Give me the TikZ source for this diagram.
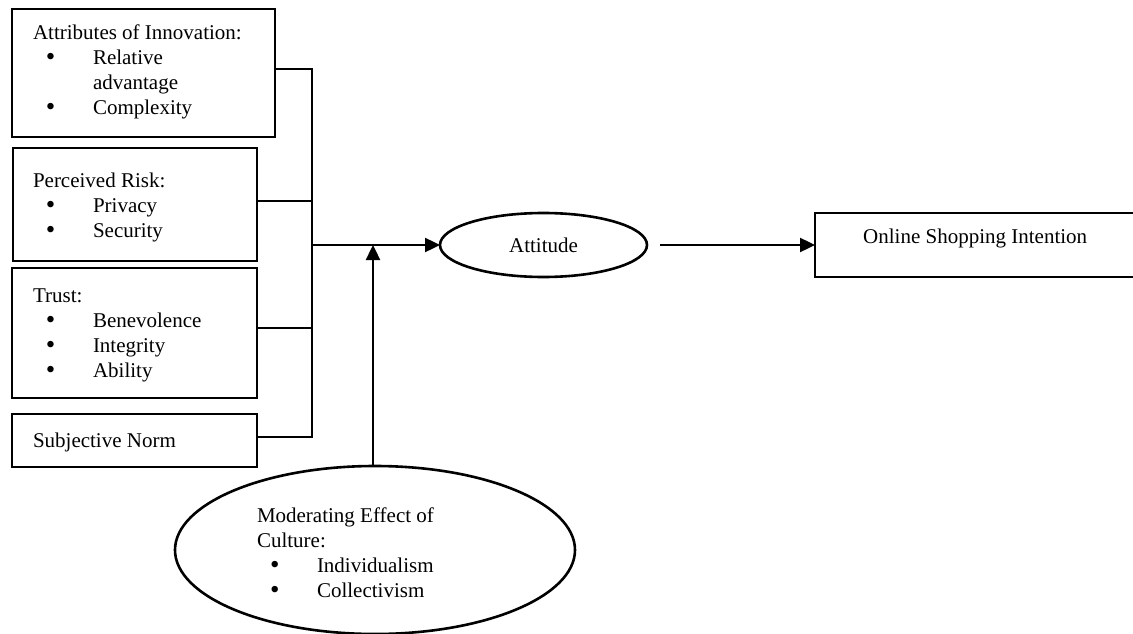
\documentclass[tikz,border=0pt]{standalone}
\usepackage{fontspec}
\setmainfont{Liberation Serif}
\usetikzlibrary{arrows.meta,shapes.geometric}
\newcommand\bdot{\raisebox{-1pt}{\fontsize{27pt}{25pt}\selectfont\textbullet}}
\newcommand\blt[1]{\hspace*{13pt}\makebox[47pt][l]{\bdot}#1}
\newcommand\cont[1]{\hspace*{60pt}#1}
\tikzset{
  every node/.style={font=\fontsize{21pt}{25pt}\selectfont},
  box/.style={draw, line width=2.8pt, rectangle, anchor=north west, inner sep=0pt, outer sep=0pt},
  txt/.style={anchor=north west, inner sep=0pt, outer sep=0pt, align=left},
  oval/.style={draw, line width=2.6pt, ellipse, inner sep=0pt, outer sep=0pt},
  conn/.style={line width=2.4pt},
  arr/.style={line width=2.4pt, -{Triangle[length=15pt,width=14pt]}}
}
\begin{document}
\begin{tikzpicture}[x=1pt,y=-1pt]
\useasboundingbox (0,0) rectangle (1133,634);
% left boxes
\node[box, minimum width=263pt, minimum height=128pt] (b1) at (12,9) {};
\node[box, minimum width=244pt, minimum height=113pt] (b2) at (13,148) {};
\node[box, minimum width=245pt, minimum height=130pt] (b3) at (12,268) {};
\node[box, minimum width=245pt, minimum height=53pt] (b4) at (12,414) {};
\node[txt] (t1) at (33,24.5) {\rule{0pt}{15pt}Attributes of Innovation:\\ \blt{Relative}\\ \cont{advantage}\\ \blt{Complexity}};
\node[txt] (t2) at (33,172.5) {\rule{0pt}{15pt}Perceived Risk:\\ \blt{Privacy}\\ \blt{Security}};
\node[txt] (t3) at (33,287.5) {\rule{0pt}{15pt}Trust:\\ \blt{Benevolence}\\ \blt{Integrity}\\ \blt{Ability}};
\node[txt] (t4) at (33,432) {\rule{0pt}{15pt}Subjective Norm};
% attitude and outcome
\node[oval, minimum width=207pt, minimum height=64pt] (att) at (543.5,245) {Attitude};
\node[box, minimum width=322pt, minimum height=64pt] (out) at (815,213) {};
\node[anchor=base west, inner sep=0pt] (outt) at (863,243) {Online Shopping Intention};
% moderator
\node[oval, minimum width=400pt, minimum height=168pt] (mod) at (375,550) {};
\node[txt] (modt) at (257,507) {\rule{0pt}{15pt}Moderating Effect of\\ Culture:\\ \blt{Individualism}\\ \blt{Collectivism}};
% bus
\coordinate (bt) at (312,69);
\coordinate (bb) at (312,437);
\coordinate (j) at (312,245);
\draw[conn] ([yshift=4pt]b1.east) -| (bb) -- ([yshift=3.5pt]b4.east);
\draw[conn] ([yshift=3.5pt]b2.east) coordinate (c2) -- (c2 -| bt);
\draw[conn] ([yshift=5pt]b3.east) coordinate (c3) -- (c3 -| bt);
\draw[arr] (j) -- (att.west);
\draw[arr] ([xshift=-2pt]mod.north) -- ([xshift=-2pt]mod.north |- j);
\draw[arr] ([xshift=13pt]att.east) -- (out.west |- att.east);
\end{tikzpicture}
\end{document}
